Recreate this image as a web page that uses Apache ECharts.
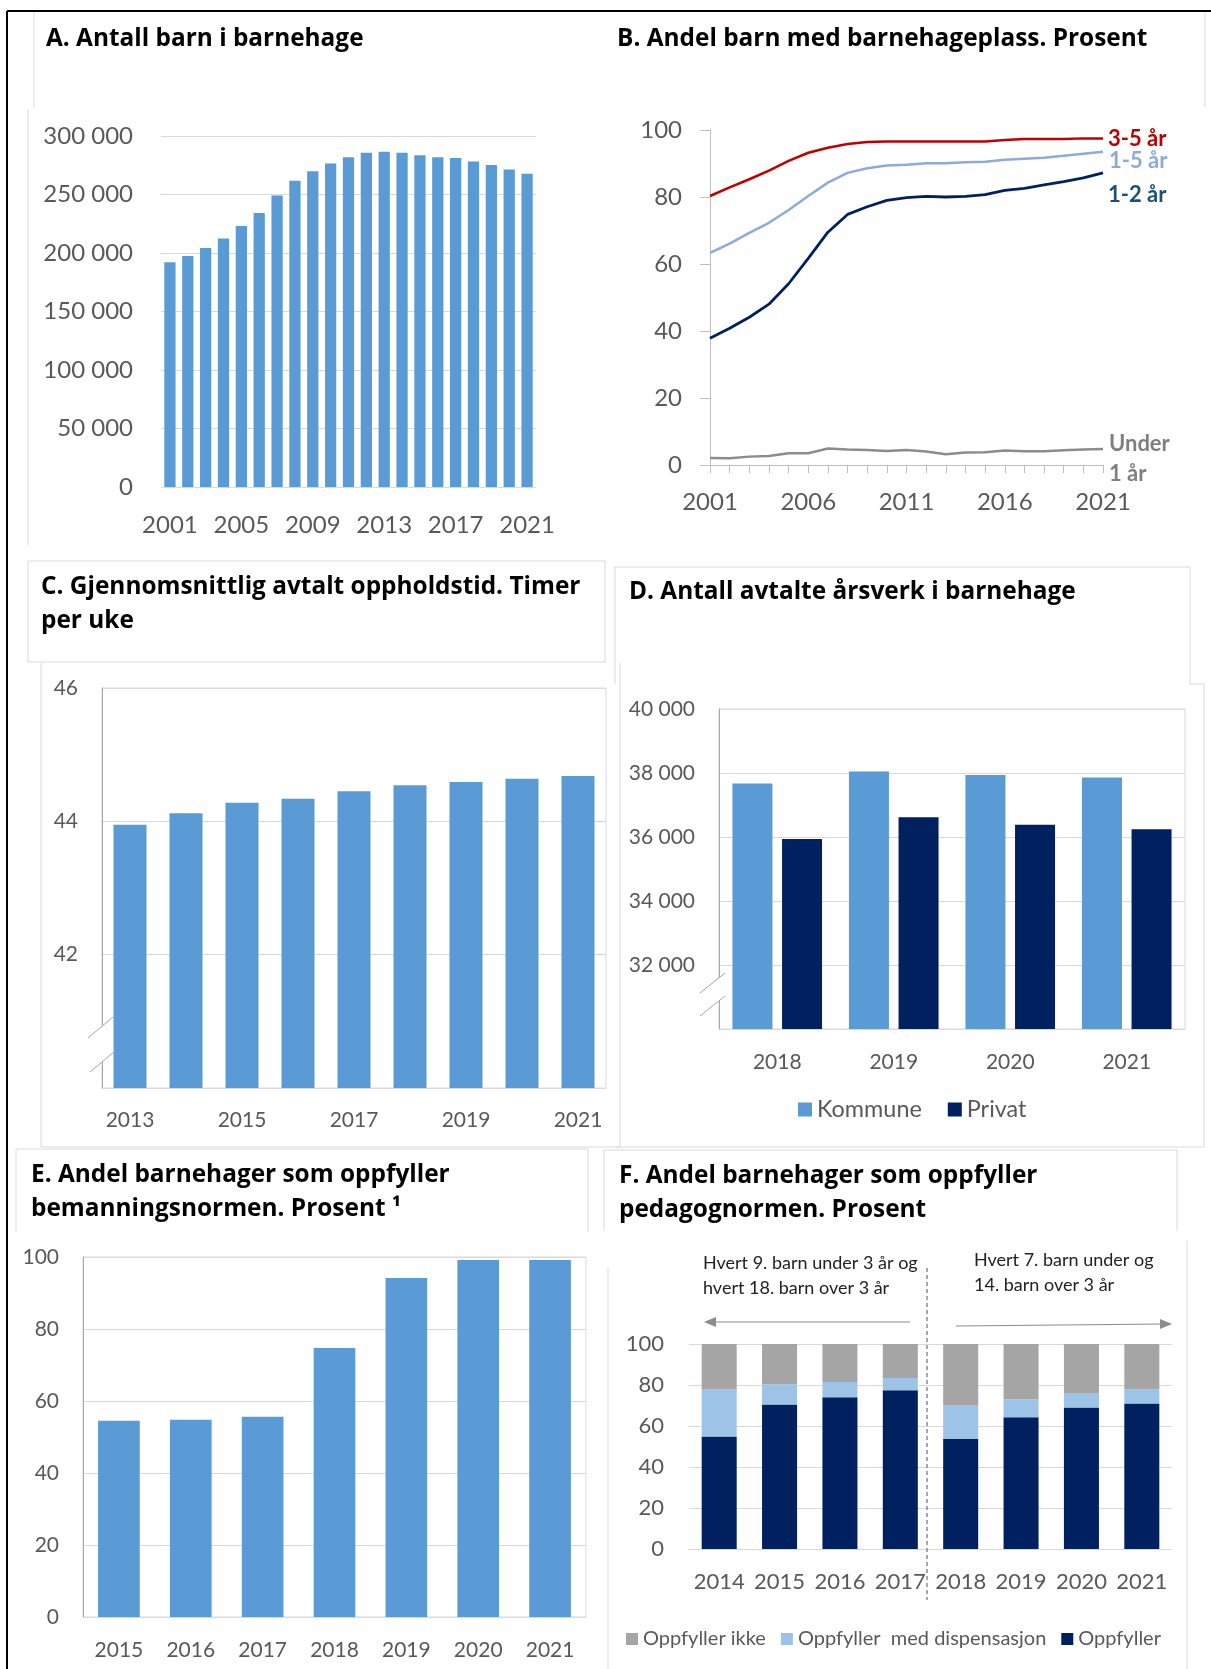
<!DOCTYPE html>
<html>
<head>
<meta charset="utf-8">
<script src="https://cdn.jsdelivr.net/npm/echarts@6/dist/echarts.min.js"></script>
<style>
html, body { margin: 0; padding: 0; background: #fff; }
#main { width: 1211px; height: 1669px; }
</style>
</head>
<body>
<div id="main"></div>
<script>
// A. Antall barn i barnehage
const yearsA = ['2001','2002','2003','2004','2005','2006','2007','2008','2009','2010','2011',
  '2012','2013','2014','2015','2016','2017','2018','2019','2020','2021'];
const barnIBarnehage = [192000, 197400, 204300, 212400, 223100, 234200, 249200, 261700, 269800, 276400, 281800,
  285600, 286500, 285600, 283500, 281800, 281100, 278200, 275200, 271300, 267700];

// B. Andel barn med barnehageplass
const yearsB = ['2001','2002','2003','2004','2005','2006','2007','2008','2009','2010','2011',
  '2012','2013','2014','2015','2016','2017','2018','2019','2020','2021'];
const andel35 = [80.3, 82.9, 85.3, 87.9, 90.8, 93.2, 94.7, 95.8, 96.4, 96.6, 96.6,
  96.6, 96.6, 96.6, 96.6, 97.0, 97.3, 97.3, 97.3, 97.5, 97.5];
const andel15 = [63.3, 66.1, 69.3, 72.3, 76.1, 80.3, 84.3, 87.2, 88.6, 89.4, 89.6,
  90.1, 90.1, 90.4, 90.5, 91.1, 91.4, 91.7, 92.3, 92.9, 93.5];
const andel12 = [37.8, 40.8, 44.1, 48.0, 54.1, 61.7, 69.5, 74.8, 77.1, 79.0, 79.8,
  80.2, 80.0, 80.2, 80.7, 82.0, 82.6, 83.6, 84.6, 85.7, 87.2];
const andelUnder1 = [2.1, 2.0, 2.5, 2.7, 3.5, 3.5, 4.9, 4.6, 4.5, 4.2, 4.5,
  4.0, 3.2, 3.7, 3.8, 4.3, 4.1, 4.1, 4.4, 4.6, 4.8];

// C. Gjennomsnittlig avtalt oppholdstid
const yearsC = ['2013','2014','2015','2016','2017','2018','2019','2020','2021'];
const oppholdstid = [43.95, 44.12, 44.28, 44.34, 44.45, 44.54, 44.59, 44.64, 44.68];

// D. Antall avtalte årsverk
const yearsD = ['2018','2019','2020','2021'];
const kommune = [37670, 38050, 37940, 37860];
const privat = [35940, 36620, 36380, 36240];

// E. Bemanningsnormen
const yearsE = ['2015','2016','2017','2018','2019','2020','2021'];
const bemanning = [54.5, 54.8, 55.6, 74.7, 94.2, 99.2, 99.2];

// F. Pedagognormen
const yearsF = ['2014','2015','2016','2017','2018','2019','2020','2021'];
const oppfyller = [54.9, 70.5, 74.0, 77.4, 53.7, 64.3, 69.0, 71.0];
const dispensasjon = [22.9, 9.9, 7.5, 6.0, 16.5, 8.8, 7.1, 6.8];
const oppfyllerIkke = [22.2, 19.6, 18.5, 16.6, 29.8, 26.9, 23.9, 22.2];

const FONT = 'Lato';
const TFONT = 'Open Sans';
const BLUE = '#5B9BD5';
const NAVY = '#002060';
const GRID = '#D9D9D9';
const AXIS = '#A6A6A6';

function thousands(v) {
  return String(v).replace(/\B(?=(\d{3})+(?!\d))/g, ' ');
}
function lab(size, margin) {
  return { color: '#595959', fontFamily: FONT, fontSize: size, margin: margin };
}
function titleAt(text, left, top) {
  return {
    text: text, left: left, top: top, padding: 0,
    textStyle: { fontFamily: TFONT, fontWeight: 'bold', fontSize: 24.4, lineHeight: 34, color: '#000' }
  };
}
function greyLine(pts) {
  return { type: 'polyline', shape: { points: pts }, style: { stroke: GRID, lineWidth: 1, fill: null }, z: -1 };
}
function note(text, x, y) {
  return { type: 'text', x: x, y: y, z: 11,
    style: { text: text, fill: '#222', fontFamily: FONT, fontSize: 18, verticalAlign: 'middle' } };
}

var myChart = echarts.init(document.getElementById('main'));

var option = {
  animation: false,
  backgroundColor: '#fff',
  title: [
    titleAt('A. Antall barn i barnehage', 46, 22),
    titleAt('B. Andel barn med barnehageplass. Prosent', 617, 22),
    titleAt('C. Gjennomsnittlig avtalt oppholdstid. Timer\nper uke', 41, 570),
    titleAt('D. Antall avtalte årsverk i barnehage', 629, 575),
    titleAt('E. Andel barnehager som oppfyller\nbemanningsnormen. Prosent ¹', 31, 1158),
    titleAt('F. Andel barnehager som oppfyller\npedagognormen. Prosent', 619, 1159)
  ],
  grid: [
    { left: 161, top: 136, width: 375, height: 351 },
    { left: 710, top: 130, width: 393, height: 335 },
    { left: 102, top: 688, width: 504, height: 400, show: true, borderColor: GRID, borderWidth: 1, backgroundColor: 'transparent' },
    { left: 719, top: 709, width: 466, height: 320, show: true, borderColor: GRID, borderWidth: 1, backgroundColor: 'transparent' },
    { left: 83, top: 1257, width: 503, height: 360, show: true, borderColor: GRID, borderWidth: 1, backgroundColor: 'transparent' },
    { left: 689, top: 1344, width: 483, height: 205 }
  ],
  legend: [
    {
      data: ['Kommune', 'Privat'], left: 798, top: 1098, padding: 0, itemWidth: 14, itemHeight: 14, itemGap: 26,
      icon: 'rect', textStyle: { color: '#595959', fontFamily: FONT, fontSize: 23.4 }
    },
    {
      data: ['Oppfyller ikke', 'Oppfyller  med dispensasjon', 'Oppfyller'], left: 626, top: 1629, padding: 0,
      itemWidth: 12, itemHeight: 12, itemGap: 15, icon: 'rect',
      textStyle: { color: '#595959', fontFamily: FONT, fontSize: 20 }
    }
  ],
  xAxis: [
    { gridIndex: 0, type: 'category', data: yearsA, axisLine: { show: false }, axisTick: { show: false },
      axisLabel: Object.assign(lab(24, 26), { interval: 3 }) },
    { gridIndex: 1, type: 'category', data: yearsB, boundaryGap: false,
      axisLine: { lineStyle: { color: '#BFBFBF' } },
      axisTick: { show: true, interval: 0, length: 8, lineStyle: { color: '#BFBFBF' } },
      axisLabel: Object.assign(lab(24, 25), { interval: 4 }) },
    { gridIndex: 2, type: 'category', data: yearsC, axisLine: { lineStyle: { color: GRID } }, axisTick: { show: false },
      axisLabel: Object.assign(lab(21, 22), { interval: 1 }) },
    { gridIndex: 3, type: 'category', data: yearsD, axisLine: { lineStyle: { color: GRID } }, axisTick: { show: false },
      axisLabel: lab(21, 23) },
    { gridIndex: 4, type: 'category', data: yearsE, axisLine: { lineStyle: { color: GRID } }, axisTick: { show: false },
      axisLabel: lab(21, 23) },
    { gridIndex: 5, type: 'category', data: yearsF, axisLine: { show: false }, axisTick: { show: false },
      axisLabel: Object.assign(lab(22, 22), { interval: 0 }) }
  ],
  yAxis: [
    { gridIndex: 0, type: 'value', min: 0, max: 300000, interval: 50000, axisLine: { show: false },
      splitLine: { lineStyle: { color: GRID } }, axisLabel: Object.assign(lab(24, 28), { formatter: thousands }) },
    { gridIndex: 1, type: 'value', min: 0, max: 100, interval: 20,
      axisLine: { show: true, lineStyle: { color: '#BFBFBF' } },
      axisTick: { show: true, length: 10, lineStyle: { color: '#BFBFBF' } },
      splitLine: { show: false }, axisLabel: lab(24, 28) },
    { gridIndex: 2, type: 'value', min: 40, max: 46, interval: 2,
      axisLine: { show: true, lineStyle: { color: AXIS } }, splitLine: { lineStyle: { color: GRID } },
      axisLabel: Object.assign(lab(21, 24), { formatter: function (v) { return v === 40 ? '' : v; } }) },
    { gridIndex: 3, type: 'value', min: 30000, max: 40000, interval: 2000,
      axisLine: { show: true, lineStyle: { color: AXIS } }, splitLine: { lineStyle: { color: GRID } },
      axisLabel: Object.assign(lab(21, 24), { formatter: function (v) { return v === 30000 ? '' : thousands(v); } }) },
    { gridIndex: 4, type: 'value', min: 0, max: 100, interval: 20,
      axisLine: { show: true, lineStyle: { color: AXIS } }, splitLine: { lineStyle: { color: GRID } },
      axisLabel: lab(21, 24) },
    { gridIndex: 5, type: 'value', min: 0, max: 100, interval: 20, axisLine: { show: false },
      splitLine: { lineStyle: { color: GRID } }, axisLabel: lab(22, 25) }
  ],
  series: [
    // A
    { name: 'Antall barn', type: 'bar', xAxisIndex: 0, yAxisIndex: 0, data: barnIBarnehage,
      itemStyle: { color: BLUE }, barCategoryGap: '37%' },
    // B
    { name: '3-5 år', type: 'line', xAxisIndex: 1, yAxisIndex: 1, data: andel35, showSymbol: false,
      lineStyle: { color: '#C00000', width: 2.5 }, itemStyle: { color: '#C00000' },
      endLabel: { show: true, formatter: '3-5 år', color: '#C00000', fontWeight: 'bold', fontSize: 22,
        fontFamily: FONT, distance: 5, offset: [0, 1] } },
    { name: '1-5 år', type: 'line', xAxisIndex: 1, yAxisIndex: 1, data: andel15, showSymbol: false,
      lineStyle: { color: '#8EAADB', width: 2.5 }, itemStyle: { color: '#8EAADB' },
      endLabel: { show: true, formatter: '1-5 år', color: '#8EAADB', fontWeight: 'bold', fontSize: 22,
        fontFamily: FONT, distance: 6, offset: [0, 9] } },
    { name: '1-2 år', type: 'line', xAxisIndex: 1, yAxisIndex: 1, data: andel12, showSymbol: false,
      lineStyle: { color: NAVY, width: 2.8 }, itemStyle: { color: NAVY },
      endLabel: { show: true, formatter: '1-2 år', color: '#1F4E79', fontWeight: 'bold', fontSize: 22,
        fontFamily: FONT, distance: 5, offset: [0, 22] } },
    { name: 'Under 1 år', type: 'line', xAxisIndex: 1, yAxisIndex: 1, data: andelUnder1, showSymbol: false,
      lineStyle: { color: '#8C8C8C', width: 2.5 }, itemStyle: { color: '#8C8C8C' },
      endLabel: { show: true, formatter: 'Under\n1 år', color: '#7F7F7F', fontWeight: 'bold', fontSize: 22,
        fontFamily: FONT, lineHeight: 30, align: 'left', distance: 6, offset: [0, 10] } },
    // C
    { name: 'Oppholdstid', type: 'bar', xAxisIndex: 2, yAxisIndex: 2, data: oppholdstid,
      itemStyle: { color: BLUE }, barCategoryGap: '41%' },
    // D
    { name: 'Kommune', type: 'bar', xAxisIndex: 3, yAxisIndex: 3, data: kommune,
      itemStyle: { color: BLUE }, barWidth: 40, barGap: '24%' },
    { name: 'Privat', type: 'bar', xAxisIndex: 3, yAxisIndex: 3, data: privat,
      itemStyle: { color: NAVY }, barWidth: 40, barGap: '24%' },
    // E
    { name: 'Bemanningsnormen', type: 'bar', xAxisIndex: 4, yAxisIndex: 4, data: bemanning,
      itemStyle: { color: BLUE }, barCategoryGap: '42%' },
    // F
    { name: 'Oppfyller', type: 'bar', stack: 'ped', xAxisIndex: 5, yAxisIndex: 5, data: oppfyller,
      itemStyle: { color: NAVY }, barCategoryGap: '42%' },
    { name: 'Oppfyller  med dispensasjon', type: 'bar', stack: 'ped', xAxisIndex: 5, yAxisIndex: 5, data: dispensasjon,
      itemStyle: { color: '#9DC3E6' }, barCategoryGap: '42%' },
    { name: 'Oppfyller ikke', type: 'bar', stack: 'ped', xAxisIndex: 5, yAxisIndex: 5, data: oppfyllerIkke,
      itemStyle: { color: '#A5A5A5' }, barCategoryGap: '42%' }
  ],
  graphic: [
    // ytre ramme
    { type: 'line', shape: { x1: 7, y1: 11, x2: 1211, y2: 11 }, style: { stroke: '#000', lineWidth: 2 } },
    { type: 'line', shape: { x1: 7, y1: 11, x2: 7, y2: 1669 }, style: { stroke: '#000', lineWidth: 2 } },
    // svake bokser rundt titler og diagrammer
    greyLine([[34, 12], [34, 107]]),
    greyLine([[28, 109], [28, 545]]),
    greyLine([[1205, 12], [1205, 107]]),
    greyLine([[28, 662], [28, 561], [605, 561], [605, 662], [28, 662]]),
    greyLine([[41, 663], [41, 1147], [620, 1147], [620, 663]]),
    greyLine([[615, 684], [615, 567], [1190, 567], [1190, 684], [1204, 684], [1204, 1147], [615, 1147]]),
    greyLine([[16, 1232], [16, 1149], [588, 1149], [588, 1232]]),
    greyLine([[604, 1231], [604, 1150], [1177, 1150], [1177, 1231]]),
    greyLine([[608, 1669], [608, 1267]]),
    greyLine([[1187, 1241], [1187, 1669]]),
    // aksebrudd C
    { type: 'polygon', shape: { points: [[96, 1031], [108, 1021], [108, 1057], [96, 1067]] }, style: { fill: '#fff' }, z: 10 },
    { type: 'line', shape: { x1: 88, y1: 1038, x2: 113, y2: 1017 }, style: { stroke: AXIS, lineWidth: 1 }, z: 11 },
    { type: 'line', shape: { x1: 90, y1: 1072, x2: 115, y2: 1051 }, style: { stroke: AXIS, lineWidth: 1 }, z: 11 },
    // aksebrudd D
    { type: 'polygon', shape: { points: [[713, 983], [725, 973], [725, 996], [713, 1006]] }, style: { fill: '#fff' }, z: 10 },
    { type: 'line', shape: { x1: 700, y1: 993, x2: 725, y2: 973 }, style: { stroke: AXIS, lineWidth: 1 }, z: 11 },
    { type: 'line', shape: { x1: 700, y1: 1016, x2: 725, y2: 996 }, style: { stroke: AXIS, lineWidth: 1 }, z: 11 },
    // F: normskifte
    { type: 'line', shape: { x1: 927, y1: 1268, x2: 927, y2: 1600 },
      style: { stroke: '#6F6F6F', lineWidth: 1.2, lineDash: [4, 3] }, z: 11 },
    note('Hvert 9. barn under 3 år og', 703, 1263),
    note('hvert 18. barn over 3 år', 703, 1288),
    note('Hvert 7. barn under og', 974, 1260),
    note('14. barn over 3 år', 974, 1285),
    { type: 'line', shape: { x1: 910, y1: 1322, x2: 712, y2: 1322 }, style: { stroke: '#8C8C8C', lineWidth: 1.2 } },
    { type: 'polygon', shape: { points: [[704, 1322], [716, 1317], [716, 1327]] }, style: { fill: '#8C8C8C' } },
    { type: 'line', shape: { x1: 956, y1: 1326, x2: 1164, y2: 1324 }, style: { stroke: '#8C8C8C', lineWidth: 1.2 } },
    { type: 'polygon', shape: { points: [[1172, 1324], [1160, 1319], [1160, 1329]] }, style: { fill: '#8C8C8C' } }
  ]
};

option && myChart.setOption(option);
</script>
</body>
</html>
